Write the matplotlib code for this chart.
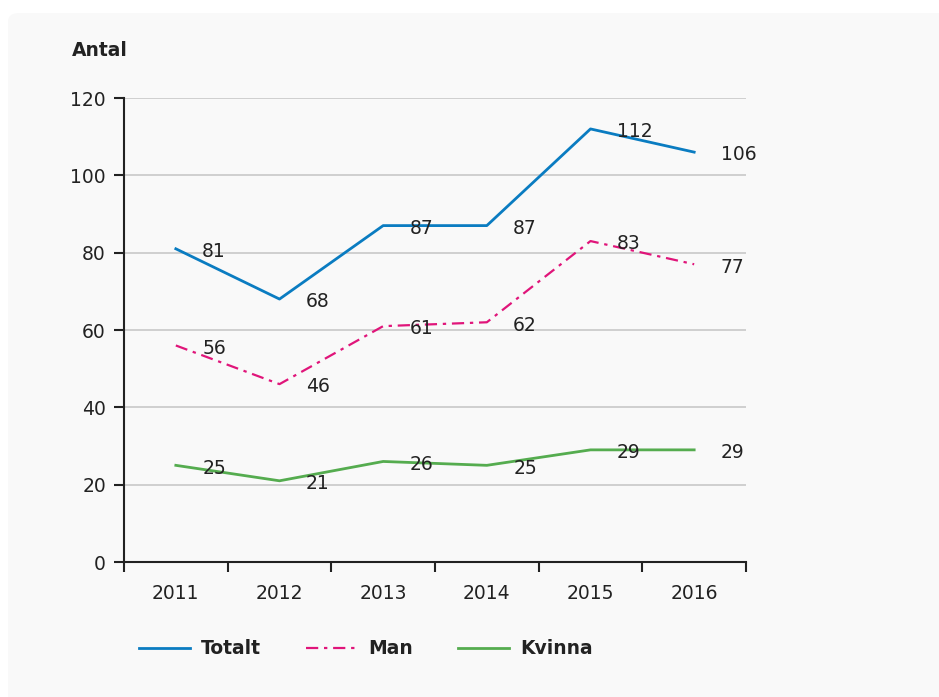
import matplotlib.pyplot as plt
from matplotlib.patches import FancyBboxPatch
from matplotlib.lines import Line2D

# data
years = ['2011', '2012', '2013', '2014', '2015', '2016']
totalt = [81, 68, 87, 87, 112, 106]
man = [56, 46, 61, 62, 83, 77]
kvinna = [25, 21, 26, 25, 29, 29]
yticks = [0, 20, 40, 60, 80, 100, 120]

blue = '#0a7cc1'
pink = '#e0157a'
green = '#55ac4f'
txt = '#222222'
man_dash = (5.5, 2.6, 1.5, 2.6)

plt.rcParams['font.family'] = ['DejaVu Sans']

fig = plt.figure(figsize=(9.39, 6.97), dpi=100)
fig.patch.set_facecolor('white')

# light grey panel with rounded corner
panel = FancyBboxPatch((8 / 939, -0.1), 1.2, (697 - 13) / 697 + 0.1,
                       boxstyle='round,pad=0,rounding_size=0.012',
                       transform=fig.transFigure, facecolor='#f9f9f9',
                       edgecolor='none', zorder=-10)
fig.patches.append(panel)

ax = fig.add_axes([124 / 939, 1 - 562 / 697, (746 - 124) / 939, (562 - 98) / 697])
ax.set_facecolor('none')

x = list(range(len(years)))
ax.plot(x, totalt, color=blue, lw=2, zorder=3)
ax.plot(x, man, color=pink, lw=1.6, dashes=man_dash, zorder=3)
ax.plot(x, kvinna, color=green, lw=2, zorder=3)

for series in (totalt, man, kvinna):
    for i, v in enumerate(series):
        ax.annotate(str(v), (i, v), xytext=(19, -2), textcoords='offset points',
                    ha='left', va='center', fontsize=13.5, color=txt, zorder=4)

ax.set_xlim(-0.5, len(years) - 0.5)
ax.set_ylim(0, 120)
ax.set_yticks(yticks)
ax.set_yticklabels([str(t) for t in yticks], fontsize=13.5, color=txt)
ax.set_xticks(x)
ax.set_xticklabels(years, fontsize=13.5, color=txt)
ax.tick_params(axis='x', length=0, pad=16)
ax.tick_params(axis='y', length=7, width=1.5, color='#222222', pad=6)
ax.set_xticks([i - 0.5 for i in range(len(years) + 1)], minor=True)
ax.tick_params(axis='x', which='minor', length=7, width=1.5, color='#222222')

ax.grid(axis='y', color='#c8c8c8', lw=1.2, zorder=1)
ax.set_axisbelow(True)
for s in ('top', 'right'):
    ax.spines[s].set_visible(False)
for s in ('left', 'bottom'):
    ax.spines[s].set_color('#222222')
    ax.spines[s].set_linewidth(1.5)

fig.text(72 / 939, 1 - 50 / 697, 'Antal', fontsize=13.5, fontweight='semibold',
         color=txt, va='center', ha='left')

handles = [Line2D([], [], color=blue, lw=2),
           Line2D([], [], color=pink, lw=1.6, dashes=man_dash),
           Line2D([], [], color=green, lw=2)]
leg = fig.legend(handles, ['Totalt', 'Man', 'Kvinna'], loc='center left',
                 bbox_to_anchor=(130 / 939, 1 - 649 / 697), ncol=3, frameon=False,
                 handlelength=2.7, columnspacing=2.4, handletextpad=0.6,
                 borderpad=0, prop={'size': 13.5, 'weight': 'semibold'})
for t in leg.get_texts():
    t.set_color(txt)

fig.savefig('out.png', dpi=100, facecolor='white')
